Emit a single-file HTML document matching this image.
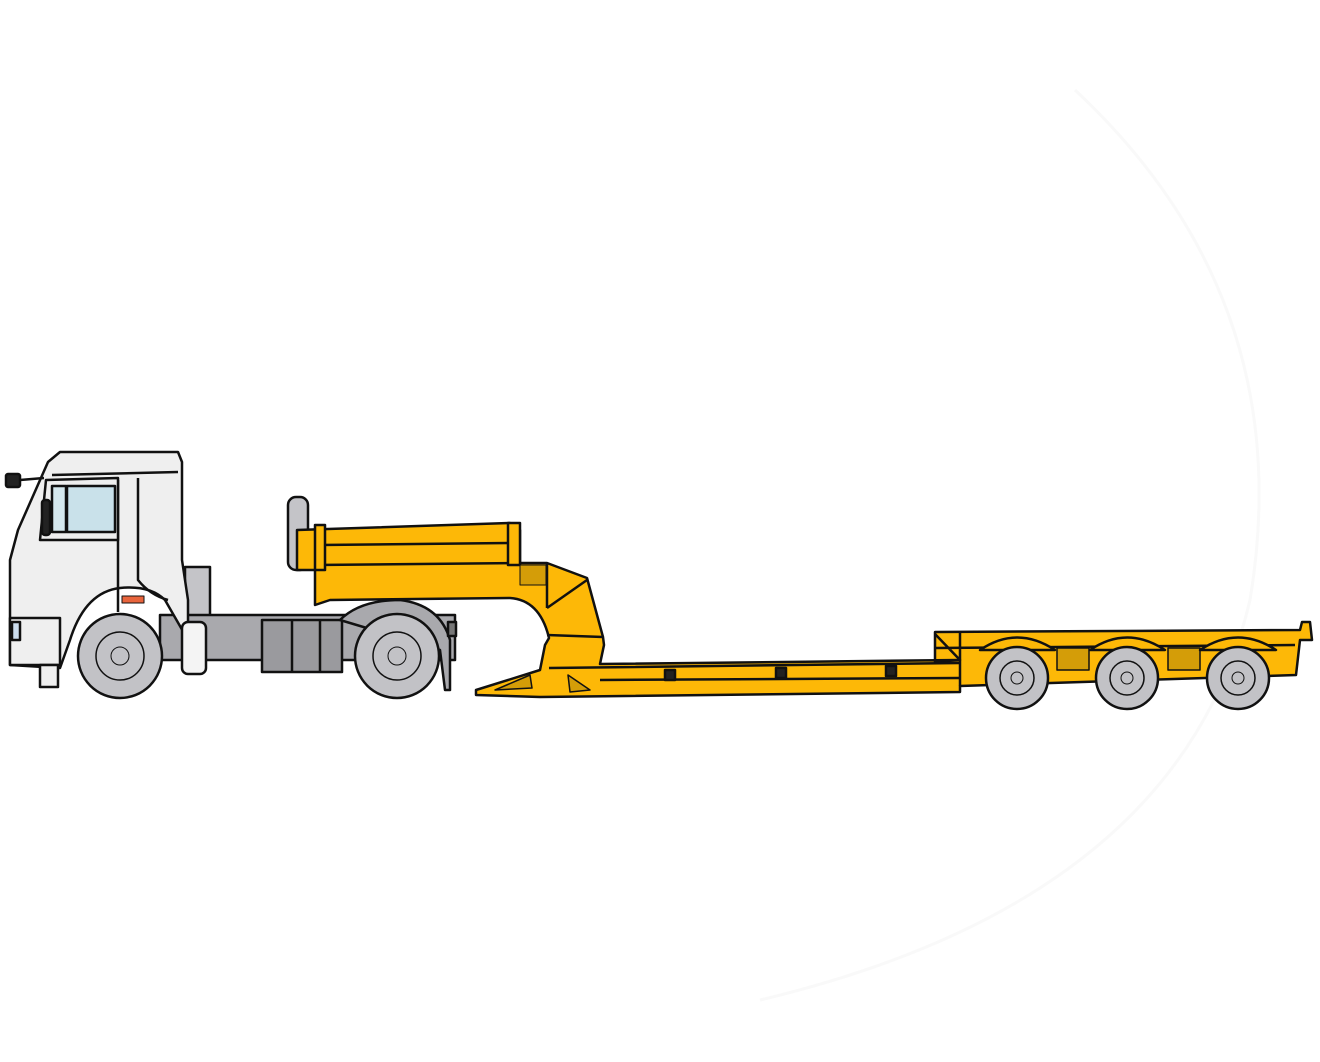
<!DOCTYPE html>
<html><head><meta charset="utf-8"><style>html,body{margin:0;padding:0;background:#fff;width:1320px;height:1062px;overflow:hidden}</style></head>
<body>
<svg width="1320" height="1062" viewBox="0 0 1320 1062" xmlns="http://www.w3.org/2000/svg" stroke="#111" stroke-width="2.5" stroke-linejoin="round">
<path d="M1075 90 Q1300 300 1250 600 Q1180 900 760 1000" fill="none" stroke="#f9f9f9" stroke-width="3"/>
<!-- truck chassis -->
<rect x="185" y="567" width="25" height="50" fill="#c4c4c8"/>
<path d="M160 615 L455 615 L455 660 L160 660 Z" fill="#a9a9ad"/>
<rect x="262" y="620" width="80" height="52" fill="#9a9a9e"/>
<line x1="292" y1="620" x2="292" y2="672"/><line x1="320" y1="620" x2="320" y2="672"/>
<path d="M340 620 Q360 600 400 600 Q440 605 450 640 L450 690 L445 690 L440 650 Z" fill="#a9a9ad"/>
<rect x="448" y="622" width="8" height="14" fill="#777"/>
<!-- cab -->
<path d="M10 665 L10 560 L18 530 L48 462 L60 452 L178 452 L182 462 L182 560 L188 600 L188 640 L165 600 Q150 585 120 588 Q85 592 70 640 L60 668 Z" fill="#efefef"/>
<path d="M52 475 L178 472" fill="none"/>
<path d="M118 480 L118 612" fill="none"/><path d="M138 478 L138 580 Q150 595 168 600" fill="none"/>
<path d="M46 480 L118 478 L118 540 L40 540 Z" fill="#eee"/>
<rect x="67" y="486" width="48" height="46" fill="#c9e1ea"/>
<rect x="52" y="486" width="14" height="46" fill="#d5e8ee"/>
<rect x="42" y="500" width="8" height="35" rx="3" fill="#222"/>
<rect x="6" y="474" width="14" height="13" rx="2" fill="#222"/>
<line x1="20" y1="480" x2="44" y2="478"/>
<rect x="10" y="618" width="50" height="47" fill="#efefef"/>
<rect x="12" y="622" width="8" height="18" fill="#cde"/>
<rect x="40" y="665" width="18" height="22" fill="#efefef"/>
<rect x="122" y="596" width="22" height="7" fill="#e8643c" stroke-width="1"/>
<rect x="182" y="622" width="24" height="52" rx="6" fill="#f4f4f4"/>
<!-- wheels -->
<g fill="#c2c2c6">
<circle cx="120" cy="656" r="42"/><circle cx="120" cy="656" r="24" stroke-width="1.5"/><circle cx="120" cy="656" r="9" stroke-width="1"/>
<circle cx="397" cy="656" r="42"/><circle cx="397" cy="656" r="24" stroke-width="1.5"/><circle cx="397" cy="656" r="9" stroke-width="1"/>
</g>
<!-- gooseneck / trailer -->
<rect x="288" y="497" width="20" height="73" rx="8" fill="#c4c4c8"/>
<path d="M297 530 L510 523 L520 530 L520 563 L547 563 L587 578 L603 637 L604 645 L600 664 L960 660 L935 662 L935 632 L1300 630 L1302 622 L1310 622 L1312 640 L1300 640 L1296 675 L960 686 L960 692 L540 697 L476 695 L476 690 L540 670 L545 645 L549 638 Q540 600 510 598 L330 600 L315 605 L315 570 L297 570 Z" fill="#fdb807"/>
<line x1="315" y1="565" x2="520" y2="563"/><line x1="320" y1="545" x2="515" y2="543"/>
<rect x="315" y="525" width="10" height="45" fill="#fdb807"/>
<rect x="508" y="523" width="12" height="42" fill="#fdb807"/>
<rect x="520" y="565" width="26" height="20" fill="#d49d08" stroke-width="1"/>
<path d="M547 608 L547 563 M547 608 L587 580 M547 635 L603 637 M549 668 L960 663 M600 680 L960 678" fill="none"/>
<path d="M495 690 L530 675 L532 688 Z M568 675 L590 690 L570 692 Z" fill="#d49d08" stroke-width="1.5"/>
<g fill="#222"><rect x="665" y="670" width="10" height="10"/><rect x="776" y="668" width="10" height="10"/><rect x="886" y="666" width="10" height="10"/></g>
<path d="M935 634 L960 660 M960 632 L960 686 M935 648 L1295 645" fill="none"/>
<g fill="#d49d08" stroke-width="1.5"><rect x="1057" y="648" width="32" height="22"/><rect x="1168" y="648" width="32" height="22"/></g>
<g fill="#fdb807"><path d="M980 650 Q1017 625 1055 650 Z"/><path d="M1090 650 Q1127 625 1165 650 Z"/><path d="M1200 650 Q1238 625 1276 650 Z"/></g>
<g fill="#c2c2c6">
<circle cx="1017" cy="678" r="31"/><circle cx="1017" cy="678" r="17" stroke-width="1.5"/><circle cx="1017" cy="678" r="6" stroke-width="1"/>
<circle cx="1127" cy="678" r="31"/><circle cx="1127" cy="678" r="17" stroke-width="1.5"/><circle cx="1127" cy="678" r="6" stroke-width="1"/>
<circle cx="1238" cy="678" r="31"/><circle cx="1238" cy="678" r="17" stroke-width="1.5"/><circle cx="1238" cy="678" r="6" stroke-width="1"/>
</g>
</svg>
</body></html>
